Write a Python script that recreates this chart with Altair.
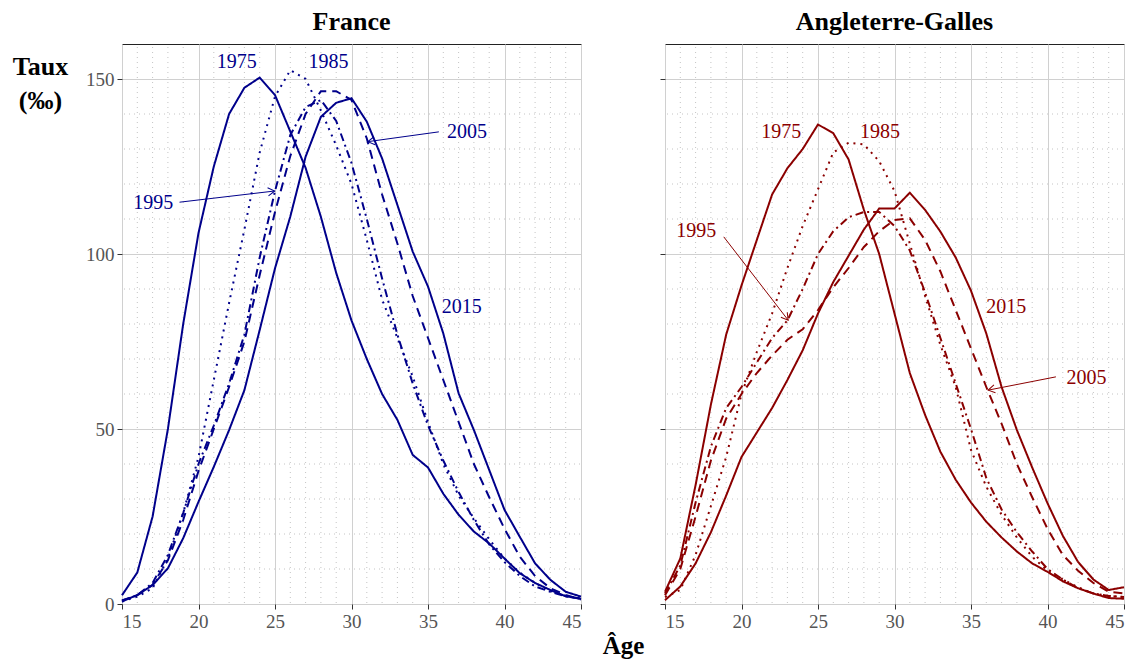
import math
import altair as alt
import pandas as pd

ages = list(range(15, 46))
years = ["1975", "1985", "1995", "2005", "2015"]

france_1975 = [2.5, 9, 25, 50, 80, 106, 125, 140, 147.5, 150.4, 145.4, 135, 124.6, 110.6, 94.6, 81, 70, 60, 52.6, 42.6, 39, 31.5, 25.5, 20.7, 17.3, 13, 8.8, 6, 4, 2.2, 1.5]
france_1985 = [0.7, 2.1, 4.5, 13, 26, 42, 64, 86, 107, 129, 145, 152.5, 150, 141, 131, 120, 104, 87, 76, 65, 52, 40, 31, 24.5, 18.5, 13, 9, 6, 3.7, 2.3, 1.5]
france_1995 = [1, 2.5, 6, 14, 26, 40, 51, 63, 77, 99, 118, 134, 142, 144, 138, 126, 110, 93, 77, 63, 51, 41, 32, 24, 17, 12, 8, 5, 3.5, 2.2, 1.5]
france_2005 = [1, 2.5, 5.5, 12.5, 24, 38, 50, 62, 75, 94, 112, 128, 140, 146.5, 146.5, 144, 133, 117, 103, 88, 76, 64, 52, 40, 30.5, 21.5, 13.5, 8, 4.5, 2.6, 1.3]
france_2015 = [0.7, 2.6, 5.4, 10.2, 18.8, 29.2, 39.2, 49.7, 61.1, 78.3, 95.9, 110.7, 127.8, 139.2, 143.2, 144.5, 137.8, 127.3, 114, 100.7, 90.7, 77.3, 60.2, 49.7, 38.3, 26.9, 19.2, 11.6, 6.9, 3.5, 2.1]

england_1975 = [3.5, 13, 34, 57, 77, 91, 104, 117, 124.5, 130, 137, 134.5, 127, 112.6, 100, 83, 66, 54, 43.5, 35.5, 29, 23.5, 19, 15, 11.6, 9.2, 6.5, 4.5, 3, 1.7, 1.5]
england_1985 = [2, 4, 14, 28, 42, 60, 72, 83, 96, 108, 118.5, 129, 131.8, 131.3, 126.5, 118, 103, 88, 74, 62, 44, 33.5, 25.5, 19, 13.5, 9.5, 7, 4.8, 3, 2.3, 2]
england_1995 = [3, 11, 29, 45, 56, 62, 69, 76, 81, 90, 100, 106.5, 110.5, 112, 112, 108, 101, 89, 76, 63, 50, 36, 27, 20.5, 15, 10, 7, 4.5, 3, 2.3, 2]
england_2005 = [2.5, 10, 25, 41, 53, 60, 66, 71, 75.5, 78.5, 84, 90.5, 96, 102, 106.5, 109.7, 110.2, 104, 95, 84, 73, 62, 51.5, 40, 30.5, 21.5, 14, 9.5, 6, 3.5, 3]
england_2015 = [1.1, 5, 11.6, 20.5, 31, 42, 49, 56, 64, 72.5, 83, 92, 99.5, 107, 113, 113, 117.5, 112.6, 106.4, 99, 89.5, 77.3, 62, 49.7, 39, 28.8, 19.5, 12, 7, 4, 4.8]

# annotation labels: (text, age, rate)
france_labels = [("1975", 22.5, 154.9), ("1985", 28.5, 154.9), ("1995", 17.05, 114.6),
                 ("2005", 37.55, 134.9), ("2015", 37.2, 84.9)]
england_labels = [("1975", 22.6, 134.9), ("1985", 29.05, 134.9), ("1995", 17.05, 106.6),
                  ("2015", 37.3, 84.9), ("2005", 42.55, 64.6)]
# arrows: (start age, start rate, tip age, tip rate)
france_arrows = [(18.76, 114.8, 24.98, 118.0), (35.71, 134.9, 31.07, 132.1)]
england_arrows = [(18.84, 104.9, 23.05, 81.1), (40.55, 64.9, 36.12, 61.1)]

x_ticks = [15, 20, 25, 30, 35, 40, 45]
y_ticks = [0, 50, 100, 150]
x_minor = [a for a in range(16, 45) if a % 5 != 0]
y_minor = [v for v in range(10, 160, 10) if v % 50 != 0]

dash_range = [[1, 0], [2, 5], [8, 4, 2, 4], [9, 6], [1, 0]]

W, H = 459, 560
X_DOMAIN = [15, 45]
Y_DOMAIN = [0, 160]
FONT = "Liberation Serif"


def build(title, series, color, labels, arrows, first):
    xs = alt.Scale(domain=X_DOMAIN, nice=False, zero=False)
    ys = alt.Scale(domain=Y_DOMAIN, nice=False)
    if first:
        xaxis = alt.Axis(values=x_ticks, title=None)
        yaxis = alt.Axis(values=y_ticks, title=["Taux", "(‰)"], titleAngle=0,
                         titleX=-82, titleY=30, titleAlign="center",
                         titleBaseline="alphabetic", titleLineHeight=34,
                         titleFontSize=26)
    else:
        xaxis = alt.Axis(values=x_ticks, title="Âge", titleX=-42, titleY=49,
                         titleAlign="center", titleBaseline="alphabetic")
        yaxis = alt.Axis(values=y_ticks, labels=False, title=None)

    def X(f):
        return alt.X(f, type="quantitative", scale=xs, axis=xaxis)

    def Y(f):
        return alt.Y(f, type="quantitative", scale=ys, axis=yaxis)

    rows = []
    for yr, vals in zip(years, series):
        for a, v in zip(ages, vals):
            rows.append({"age": a, "rate": v, "year": yr})
    df = pd.DataFrame(rows)

    vminor = alt.Chart(pd.DataFrame({"age": x_minor})).mark_rule(
        color="#c4c4c4", strokeDash=[1, 4], strokeWidth=1).encode(
        x=X("age"), y=alt.value(3), y2=alt.value(H - 1))
    hminor = alt.Chart(pd.DataFrame({"rate": y_minor})).mark_rule(
        color="#c4c4c4", strokeDash=[1, 4], strokeWidth=1).encode(
        y=Y("rate"), x=alt.value(2), x2=alt.value(W - 1))

    lines = alt.Chart(df).mark_line(color=color, strokeWidth=2).encode(
        x=X("age"), y=Y("rate"),
        strokeDash=alt.StrokeDash("year:N", scale=alt.Scale(domain=years, range=dash_range), legend=None),
        detail="year:N",
    )

    ldf = pd.DataFrame([{"t": t, "age": a, "rate": r} for t, a, r in labels])
    texts = alt.Chart(ldf).mark_text(font=FONT, fontSize=20, color=color, baseline="middle").encode(
        x=X("age"), y=Y("rate"), text="t:N")

    sx = W / (X_DOMAIN[1] - X_DOMAIN[0])
    sy = H / (Y_DOMAIN[1] - Y_DOMAIN[0])
    arows = []
    for a0, r0, a1, r1 in arrows:
        dx = (a1 - a0) * sx
        dy = -(r1 - r0) * sy
        ang = math.degrees(math.atan2(dy, dx)) % 360
        arows.append({"age": a0, "rate": r0, "age2": a1, "rate2": r1, "ang": ang})
    adf = pd.DataFrame(arows)
    arrow_lines = alt.Chart(adf).mark_rule(color=color, strokeWidth=1).encode(
        x=X("age"), y=Y("rate"), x2="age2:Q", y2="rate2:Q")
    heads = alt.Chart(adf).mark_point(
        shape="M -1 -0.6 L 0 0 L -1 0.6", filled=False, size=180, strokeWidth=1,
        color=color, opacity=1).encode(
        x=X("age2"), y=Y("rate2"), angle=alt.Angle("ang:Q", scale=None))

    return alt.layer(vminor, hminor, lines, arrow_lines, heads, texts).properties(
        width=W, height=H,
        title=alt.TitleParams(title, font=FONT, fontSize=26, fontWeight="bold",
                              color="black", offset=9, anchor="middle"))


fr = build("France", [france_1975, france_1985, france_1995, france_2005, france_2015],
           "#00008B", france_labels, france_arrows, True)
en = build("Angleterre-Galles", [england_1975, england_1985, england_1995, england_2005, england_2015],
           "#8B0000", england_labels, england_arrows, False)

chart = alt.hconcat(fr, en, spacing=84, bounds="flush").properties(
    padding={"left": 3, "right": 0, "top": 0, "bottom": 0}
).configure_view(
    stroke="#222", strokeWidth=1
).configure_axis(
    domain=False, grid=True, gridColor="#d0d0d0", gridWidth=1,
    tickColor="#333", tickSize=5, labelFont=FONT, labelFontSize=19,
    labelColor="#555", labelPadding=3,
    titleFont=FONT, titleFontSize=25, titleFontWeight="bold", titleColor="black"
)

chart.save("out.html", embed_options={"renderer": "svg", "actions": False})
